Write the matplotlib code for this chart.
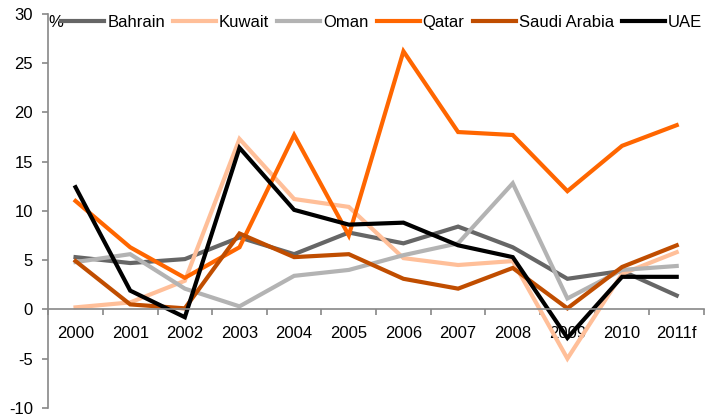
import matplotlib
matplotlib.use("Agg")
import matplotlib.pyplot as plt
from matplotlib import ticker

plt.rcParams['font.family'] = ['Liberation Sans', 'DejaVu Sans']
plt.rcParams['axes.unicode_minus'] = False

years = ['2000', '2001', '2002', '2003', '2004', '2005',
         '2006', '2007', '2008', '2009', '2010', '2011f']

bahrain = [5.3, 4.7, 5.1, 7.3, 5.6, 7.8, 6.7, 8.4, 6.3, 3.1, 3.9, 1.4]
kuwait = [0.2, 0.7, 2.9, 17.3, 11.2, 10.4, 5.2, 4.5, 4.9, -5.0, 3.6, 5.8]
oman = [4.8, 5.6, 2.1, 0.3, 3.4, 4.0, 5.5, 6.7, 12.8, 1.1, 4.0, 4.4]
qatar = [11.0, 6.3, 3.2, 6.3, 17.7, 7.5, 26.2, 18.0, 17.7, 12.0, 16.6, 18.7]
saudi = [4.9, 0.5, 0.1, 7.7, 5.3, 5.6, 3.1, 2.1, 4.2, 0.1, 4.3, 6.5]
uae = [12.4, 1.9, -0.8, 16.4, 10.1, 8.6, 8.8, 6.5, 5.3, -2.9, 3.3, 3.3]

series = [
    ('Bahrain', bahrain, '#666666'),
    ('Kuwait', kuwait, '#FFBF99'),
    ('Oman', oman, '#B3B3B3'),
    ('Qatar', qatar, '#FF6600'),
    ('Saudi Arabia', saudi, '#C04D00'),
    ('UAE', uae, '#000000'),
]

fs = 12
fig = plt.figure(figsize=(7.09, 4.2), dpi=100)
ax = fig.add_axes([0.068, 0.029, 0.925, 0.938])

x = range(len(years))
for name, vals, color in series:
    ax.plot(x, vals, color=color, linewidth=3, label=name,
            solid_joinstyle='miter')

ax.set_xlim(-0.5, len(years) - 0.5)
ax.set_ylim(-10, 30)
ax.yaxis.set_major_locator(ticker.MultipleLocator(5))

# category axis crossing at zero
axis_color = '#888888'
for side in ['top', 'right']:
    ax.spines[side].set_visible(False)
ax.spines['bottom'].set_position(('data', 0))
ax.spines['bottom'].set_color(axis_color)
ax.spines['left'].set_color(axis_color)
ax.spines['bottom'].set_linewidth(1.2)
ax.spines['left'].set_linewidth(1.2)

ax.set_xticks([i - 0.5 for i in range(len(years) + 1)])
ax.set_xticklabels([])
ax.set_xticks(list(x), minor=True)
ax.set_xticklabels(years, minor=True)
ax.tick_params(axis='x', which='major', direction='out', length=4,
               color=axis_color, width=1.2)
ax.tick_params(axis='x', which='minor', length=0, pad=12, labelsize=fs)
ax.tick_params(axis='y', direction='out', length=4, color=axis_color,
               width=1.2, labelsize=fs, pad=7)

ax.text(0.0, 0.978, '%', transform=ax.transAxes, fontsize=fs,
        va='center', ha='left')
ax.legend(loc='center left', bbox_to_anchor=(0.02, 0.978), ncol=6,
          frameon=False, fontsize=fs, handlelength=2.58, handletextpad=0.18,
          columnspacing=0.48, borderaxespad=0, borderpad=0)

fig.savefig('out.png', dpi=100)
